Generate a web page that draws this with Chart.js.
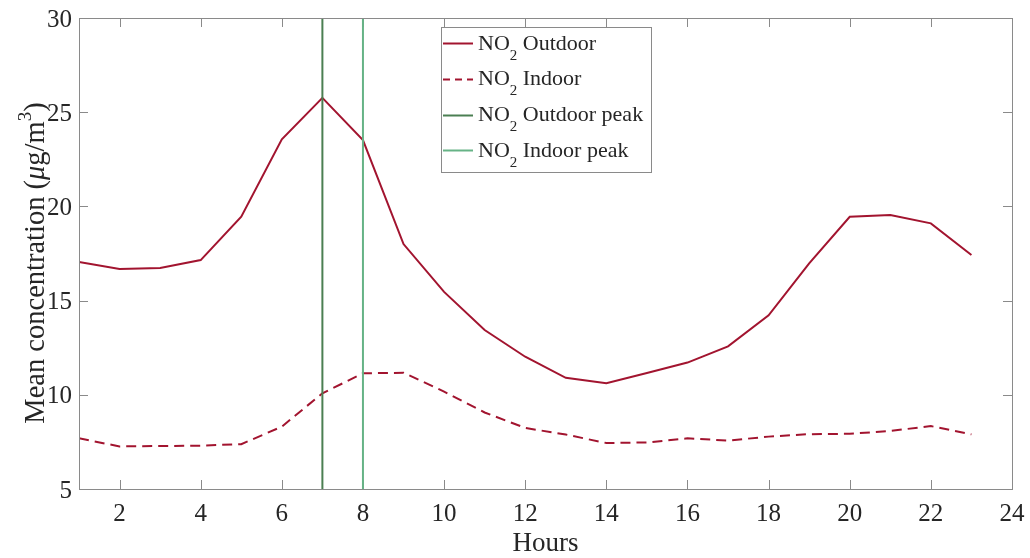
<!DOCTYPE html>
<html>
<head>
<meta charset="utf-8">
<script src="https://cdn.jsdelivr.net/npm/chart.js@4.4.1/dist/chart.umd.min.js"></script>
<style>
  html, body { margin: 0; padding: 0; background: #fff; }
  #wrap { width: 1030px; height: 558px; position: relative; }
</style>
</head>
<body>
<div id="wrap"><canvas id="chart"></canvas></div>
<script>
// hourly means
const hours = [1, 2, 3, 4, 5, 6, 7, 8, 9, 10, 11, 12, 13, 14, 15, 16, 17, 18, 19, 20, 21, 22, 23];
const outdoorNO2 = [17.05, 16.68, 16.73, 17.15, 19.45, 23.56, 25.76, 23.52, 18.0, 15.46, 13.44, 12.02,
  10.9, 10.62, 11.16, 11.71, 12.57, 14.22, 16.98, 19.45, 19.54, 19.1, 17.42];
const indoorNO2 = [7.69, 7.26, 7.28, 7.3, 7.38, 8.31, 10.08, 11.14, 11.17, 10.17, 9.06, 8.24,
  7.89, 7.44, 7.47, 7.69, 7.57, 7.78, 7.91, 7.93, 8.08, 8.34, 7.9];
const outdoorPeakHour = 7;
const indoorPeakHour = 8;
const xTicks = [2, 4, 6, 8, 10, 12, 14, 16, 18, 20, 22, 24];
const yTicks = [5, 10, 15, 20, 25, 30];
const legendLabels = ['Outdoor', 'Indoor', 'Outdoor peak', 'Indoor peak'];

const RED = '#a2142f';
const DARK_GREEN = '#4b7f52';
const LIGHT_GREEN = '#66b386';
const SERIF = '"Liberation Serif", "DejaVu Serif", serif';
const TXT = '#262626';
const AXIS = '#8a8a8a';

const toPoints = ys => hours.map((h, i) => ({ x: h, y: ys[i] }));
const vline = h => [{ x: h, y: yTicks[0] }, { x: h, y: yTicks[yTicks.length - 1] }];

// MATLAB-style box with inward ticks, tick labels, legend and axis titles
const decorations = {
  id: 'decorations',
  beforeDatasetsDraw(chart) {
    const { ctx, chartArea: a, scales: { x, y } } = chart;
    ctx.save();
    ctx.strokeStyle = AXIS;
    ctx.lineWidth = 1;
    ctx.beginPath();
    xTicks.forEach(v => {
      const px = Math.round(x.getPixelForValue(v)) + 0.5;
      ctx.moveTo(px, a.bottom); ctx.lineTo(px, a.bottom - 9);
      ctx.moveTo(px, a.top); ctx.lineTo(px, a.top + 9);
    });
    yTicks.forEach(v => {
      const py = Math.round(y.getPixelForValue(v)) + 0.5;
      ctx.moveTo(a.left, py); ctx.lineTo(a.left + 9, py);
      ctx.moveTo(a.right, py); ctx.lineTo(a.right - 9, py);
    });
    ctx.stroke();

    // tick labels
    ctx.fillStyle = TXT;
    ctx.font = '25px ' + SERIF;
    ctx.textBaseline = 'alphabetic';
    ctx.textAlign = 'center';
    xTicks.forEach(v => ctx.fillText(String(v), x.getPixelForValue(v), 521));
    ctx.textAlign = 'right';
    yTicks.forEach(v => ctx.fillText(String(v), a.left - 7, y.getPixelForValue(v) + 8.5));
    ctx.restore();
  },
  afterDraw(chart) {
    const { ctx, chartArea: a } = chart;
    ctx.save();
    ctx.strokeStyle = AXIS;
    ctx.lineWidth = 1;
    ctx.strokeRect(Math.round(a.left) + 0.5, Math.round(a.top) + 0.5,
      Math.round(a.right - a.left), Math.round(a.bottom - a.top));

    // legend
    const lx = 441, ly = 27, lw = 210, lh = 145;
    ctx.fillStyle = '#fff';
    ctx.fillRect(lx, ly, lw, lh);
    ctx.strokeStyle = AXIS;
    ctx.strokeRect(lx + 0.5, ly + 0.5, lw, lh);
    const styles = [
      { c: RED, dash: [] }, { c: RED, dash: [7, 5] },
      { c: DARK_GREEN, dash: [] }, { c: LIGHT_GREEN, dash: [] }
    ];
    legendLabels.forEach((lab, i) => {
      const base = 49.7 + i * 35.7;
      const my = Math.round(base - 6.5) + 0.5;
      ctx.strokeStyle = styles[i].c;
      ctx.lineWidth = 2;
      ctx.setLineDash(styles[i].dash);
      ctx.beginPath(); ctx.moveTo(443, my); ctx.lineTo(473, my); ctx.stroke();
      ctx.setLineDash([]);
      ctx.fillStyle = TXT;
      ctx.textBaseline = 'alphabetic';
      ctx.textAlign = 'left';
      let tx = 478;
      ctx.font = '22px ' + SERIF;
      ctx.fillText('NO', tx, base); tx += ctx.measureText('NO').width;
      ctx.font = '15px ' + SERIF;
      ctx.fillText('2', tx, base + 10); tx += ctx.measureText('2').width;
      ctx.font = '22px ' + SERIF;
      ctx.fillText(' ' + lab, tx, base);
    });

    // x title
    ctx.fillStyle = TXT;
    ctx.font = '27px ' + SERIF;
    ctx.textAlign = 'center';
    ctx.fillText('Hours', 545.5, 551);

    // y title with italic mu and superscript
    const parts = [
      { t: 'Mean concentration (', f: '28.5px ' + SERIF, dy: 0 },
      { t: '\u03bc', f: 'italic 28.5px ' + SERIF, dy: 0 },
      { t: 'g/m', f: '28.5px ' + SERIF, dy: 0 },
      { t: '3', f: '19px ' + SERIF, dy: -13 },
      { t: ')', f: '28.5px ' + SERIF, dy: 0 }
    ];
    let total = 0;
    parts.forEach(p => { ctx.font = p.f; p.w = ctx.measureText(p.t).width; total += p.w; });
    ctx.translate(44, 263);
    ctx.rotate(-Math.PI / 2);
    ctx.textAlign = 'left';
    let cx = -total / 2;
    parts.forEach(p => { ctx.font = p.f; ctx.fillText(p.t, cx, p.dy); cx += p.w; });
    ctx.restore();
  }
};

new Chart(document.getElementById('chart'), {
  type: 'line',
  data: {
    datasets: [
      { label: 'Outdoor peak', data: vline(outdoorPeakHour), borderColor: DARK_GREEN, borderWidth: 2 },
      { label: 'Indoor peak', data: vline(indoorPeakHour), borderColor: LIGHT_GREEN, borderWidth: 2 },
      { label: 'Outdoor', data: toPoints(outdoorNO2), borderColor: RED, borderWidth: 2 },
      { label: 'Indoor', data: toPoints(indoorNO2), borderColor: RED, borderWidth: 2, borderDash: [10, 6] }
    ]
  },
  options: {
    responsive: true,
    maintainAspectRatio: false,
    animation: false,
    layout: { padding: { left: 0, right: 18, top: 18, bottom: 0 } },
    elements: { point: { radius: 0 }, line: { tension: 0 } },
    plugins: { legend: { display: false }, tooltip: { enabled: false } },
    scales: {
      x: {
        type: 'linear', min: 1, max: 24,
        afterBuildTicks: s => { s.ticks = xTicks.map(v => ({ value: v })); },
        afterFit: s => { s.height = 69; },
        grid: { display: false, drawTicks: false },
        border: { display: false },
        ticks: { display: false }
      },
      y: {
        min: 5, max: 30,
        afterBuildTicks: s => { s.ticks = yTicks.map(v => ({ value: v })); },
        afterFit: s => { s.width = 79; },
        grid: { display: false, drawTicks: false },
        border: { display: false },
        ticks: { display: false }
      }
    }
  },
  plugins: [decorations]
});
</script>
</body>
</html>
